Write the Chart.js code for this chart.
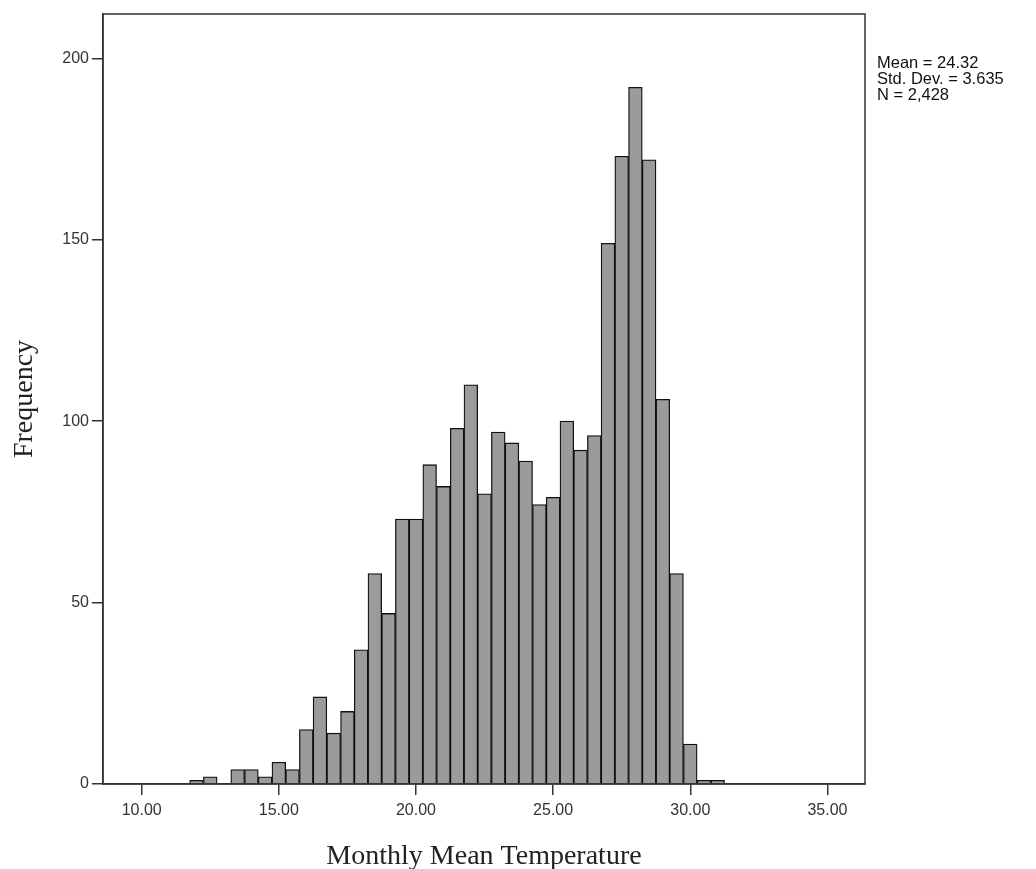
<!DOCTYPE html>
<html>
<head>
<meta charset="utf-8">
<script src="https://cdn.jsdelivr.net/npm/chart.js@4.4.1/dist/chart.umd.min.js"></script>
<style>
  html, body { margin: 0; padding: 0; background: #fff; }
  #wrap { width: 1036px; height: 869px; position: relative; }
</style>
</head>
<body>
<div id="wrap"><canvas id="c" width="1036" height="869"></canvas></div>
<script>
// Bin centres (bin width 0.5) of Monthly Mean Temperature
const binCenters = [12.0, 12.5, 13.0, 13.5, 14.0, 14.5, 15.0, 15.5, 16.0, 16.5, 17.0, 17.5,
  18.0, 18.5, 19.0, 19.5, 20.0, 20.5, 21.0, 21.5, 22.0, 22.5, 23.0, 23.5, 24.0, 24.5,
  25.0, 25.5, 26.0, 26.5, 27.0, 27.5, 28.0, 28.5, 29.0, 29.5, 30.0, 30.5, 31.0];
const frequencies = [1, 2, 0, 4, 4, 2, 6, 4, 15, 24, 14, 20,
  37, 58, 47, 73, 73, 88, 82, 98, 110, 80, 97, 94, 89, 77,
  79, 100, 92, 96, 149, 173, 192, 172, 106, 58, 11, 1, 1];
const xTicks = [10, 15, 20, 25, 30, 35];
const yTicks = [0, 50, 100, 150, 200];
const statsLines = ['Mean = 24.32', 'Std. Dev. = 3.635', 'N = 2,428'];
const xTitle = 'Monthly Mean Temperature';
const yTitle = 'Frequency';

const points = binCenters.map((x, i) => ({ x: x, y: frequencies[i] }));

const framePlugin = {
  id: 'frame',
  afterDraw(chart) {
    const { ctx, chartArea: a } = chart;
    ctx.save();
    ctx.strokeStyle = '#333';
    ctx.lineWidth = 1.5;
    ctx.strokeRect(a.left, a.top, a.right - a.left, a.bottom - a.top);
    ctx.fillStyle = '#111';
    ctx.font = '16.5px "Liberation Sans", Arial, sans-serif';
    ctx.textBaseline = 'middle';
    ctx.textAlign = 'left';
    statsLines.forEach((t, i) => ctx.fillText(t, 877, 63 + i * 16));
    ctx.restore();
  }
};

new Chart(document.getElementById('c'), {
  type: 'bar',
  data: {
    datasets: [{
      data: points,
      backgroundColor: '#9b9b9b',
      borderColor: '#111',
      borderWidth: 1.3,
      borderSkipped: 'bottom',
      barPercentage: 1,
      categoryPercentage: 1
    }]
  },
  options: {
    responsive: false,
    animation: false,
    layout: { padding: { left: 0, right: 171, top: 14, bottom: 0 } },
    plugins: { legend: { display: false }, tooltip: { enabled: false } },
    scales: {
      x: {
        type: 'linear',
        min: 8.59,
        max: 36.37,
        offset: false,
        afterBuildTicks(scale) { scale.ticks = xTicks.map(v => ({ value: v })); },
        afterFit(scale) { scale.height = 85; },
        ticks: {
          callback: v => Number(v).toFixed(2),
          color: '#333',
          font: { family: '"Liberation Sans", Arial, sans-serif', size: 16 },
          padding: 6,
          maxRotation: 0,
          autoSkip: false
        },
        grid: { display: true, offset: false, drawOnChartArea: false, drawTicks: true, tickLength: 11, color: '#333', lineWidth: 1.5 },
        border: { display: true, color: '#333', width: 1.5 },
        title: {
          display: true,
          text: xTitle,
          color: '#222',
          font: { family: '"Liberation Serif", "Times New Roman", serif', size: 28, lineHeight: 0.9 },
          padding: { top: 6, bottom: 0 }
        }
      },
      y: {
        type: 'linear',
        min: 0,
        max: 212.2,
        afterBuildTicks(scale) { scale.ticks = yTicks.map(v => ({ value: v })); },
        afterFit(scale) { scale.width = 103; },
        ticks: {
          color: '#333',
          font: { family: '"Liberation Sans", Arial, sans-serif', size: 16 },
          padding: 3
        },
        grid: { display: true, offset: false, drawOnChartArea: false, drawTicks: true, tickLength: 11, color: '#333', lineWidth: 1.5 },
        border: { display: true, color: '#333', width: 1.5 },
        title: {
          display: true,
          text: yTitle,
          color: '#222',
          font: { family: '"Liberation Serif", "Times New Roman", serif', size: 28, lineHeight: 1 },
          padding: { top: 11, bottom: 0 }
        }
      }
    }
  },
  plugins: [framePlugin]
});
</script>
</body>
</html>
